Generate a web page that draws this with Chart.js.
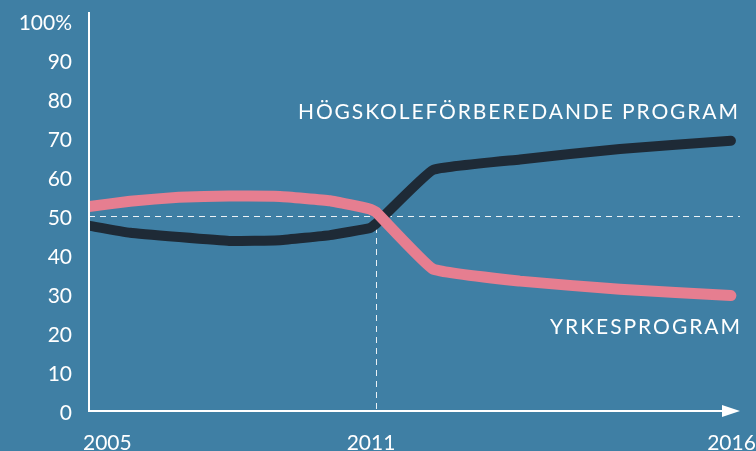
<!DOCTYPE html>
<html>
<head>
<meta charset="utf-8">
<script src="https://cdn.jsdelivr.net/npm/chart.js"></script>
<style>
  html, body { margin: 0; padding: 0; background: #3f7fa4; }
  #wrap { width: 756px; height: 451px; }
</style>
</head>
<body>
<div id="wrap"><canvas id="programChart" width="756" height="451"></canvas></div>
<script>
// x positions are in axis units (2005 = 0, 2011 = 6, 2016 = 13.42 along the drawn axis)
const xPos = [0, 0.86, 1.88, 2.93, 3.99, 5.04, 5.87, 6, 7.19, 9.01, 11.1, 13.42];
const hogskoleValues = [47.5, 45.7, 44.6, 43.6, 43.8, 45.1, 46.9, 48, 61.8, 64.5, 67.2, 69.3];
const yrkesValues = [52.4, 53.8, 54.8, 55.1, 55, 53.9, 51.8, 51, 36.4, 33.3, 31.2, 29.6];
const xTickLabels = ['2005', '2011', '2016'];
const xTickPos = [0, 6, 13.42];
const yTickValues = [0, 10, 20, 30, 40, 50, 60, 70, 80, 90, 100];
const yTickLabels = ['0', '10', '20', '30', '40', '50', '60', '70', '80', '90', '100%'];
const seriesNames = ['HÖGSKOLEFÖRBEREDANDE PROGRAM', 'YRKESPROGRAM'];

const BG = '#3f7fa4';
const FONT = '"Lato", "Open Sans", sans-serif';

const toPoints = vals => vals.map((v, i) => ({ x: xPos[i], y: v }));

// background + dashed guides under the lines
const backdrop = {
  id: 'backdrop',
  beforeDraw(chart) {
    const { ctx, scales: { x, y } } = chart;
    ctx.save();
    ctx.fillStyle = BG;
    ctx.fillRect(0, 0, chart.width, chart.height);

    ctx.strokeStyle = 'rgba(255,255,255,0.9)';
    ctx.lineWidth = 1;
    ctx.setLineDash([6, 5]);
    ctx.beginPath();
    ctx.moveTo(x.getPixelForValue(0), y.getPixelForValue(50) + 0.5);
    ctx.lineTo(x.right, y.getPixelForValue(50) + 0.5);
    ctx.moveTo(x.getPixelForValue(xTickPos[1]) + 0.5, y.getPixelForValue(50));
    ctx.lineTo(x.getPixelForValue(xTickPos[1]) + 0.5, y.getPixelForValue(0));
    ctx.stroke();
    ctx.restore();
  }
};

// axes, arrow, tick labels and series labels
const axesAndText = {
  id: 'axesAndText',
  afterDraw(chart) {
    const { ctx, scales: { x, y } } = chart;
    const x0 = x.getPixelForValue(0);
    const y0 = y.getPixelForValue(0);
    ctx.save();
    ctx.strokeStyle = '#ffffff';
    ctx.fillStyle = '#ffffff';
    ctx.lineWidth = 2;
    ctx.setLineDash([]);
    ctx.beginPath();
    ctx.moveTo(x0, y.top - 9);
    ctx.lineTo(x0, y0);
    ctx.lineTo(x.right - 16, y0);
    ctx.stroke();
    ctx.beginPath();
    ctx.moveTo(x.right, y0);
    ctx.lineTo(x.right - 18, y0 - 6);
    ctx.lineTo(x.right - 18, y0 + 6);
    ctx.closePath();
    ctx.fill();

    ctx.font = '21px ' + FONT;
    ctx.textAlign = 'right';
    ctx.textBaseline = 'middle';
    yTickValues.forEach((v, i) => {
      ctx.fillText(yTickLabels[i], x0 - 17, y.getPixelForValue(v) + 2);
    });

    ctx.textBaseline = 'alphabetic';
    const aligns = ['left', 'center', 'right'];
    const shifts = [-6, -5, 25];
    xTickLabels.forEach((lab, i) => {
      ctx.textAlign = aligns[i];
      ctx.fillText(lab, x.getPixelForValue(xTickPos[i]) + shifts[i], y0 + 39);
    });

    const drawFit = (txt, right, base, width) => {
      ctx.font = '21px ' + FONT;
      ctx.letterSpacing = '0px';
      const w = ctx.measureText(txt).width;
      const sp = (width - w) / (txt.length - 1);
      ctx.letterSpacing = sp.toFixed(2) + 'px';
      ctx.textAlign = 'left';
      ctx.fillText(txt, right - width, base);
    };
    drawFit(seriesNames[0], x.right - 2, y.getPixelForValue(75) + 0.5, 440);
    drawFit(seriesNames[1], x.right, y.getPixelForValue(20) + 0.5, 190);
    ctx.restore();
  }
};

new Chart(document.getElementById('programChart'), {
  type: 'line',
  data: {
    datasets: [
      {
        label: seriesNames[1],
        data: toPoints(yrkesValues),
        borderColor: '#e67e90',
        borderWidth: 11,
        borderCapStyle: 'round',
        borderJoinStyle: 'round',
        pointRadius: 0,
        tension: 0.1,
        fill: false
      },
      {
        label: seriesNames[0],
        data: toPoints(hogskoleValues),
        borderColor: '#1e2a36',
        borderWidth: 10,
        borderCapStyle: 'round',
        borderJoinStyle: 'round',
        pointRadius: 0,
        tension: 0.1,
        fill: false
      }
    ]
  },
  options: {
    responsive: false,
    animation: false,
    layout: { padding: { left: 89, right: 16, top: 21, bottom: 40 } },
    plugins: { legend: { display: false }, tooltip: { enabled: false } },
    scales: {
      x: { type: 'linear', min: 0, max: 13.61, display: false },
      y: { min: 0, max: 100, display: false }
    }
  },
  plugins: [backdrop, axesAndText]
});
</script>
</body>
</html>
